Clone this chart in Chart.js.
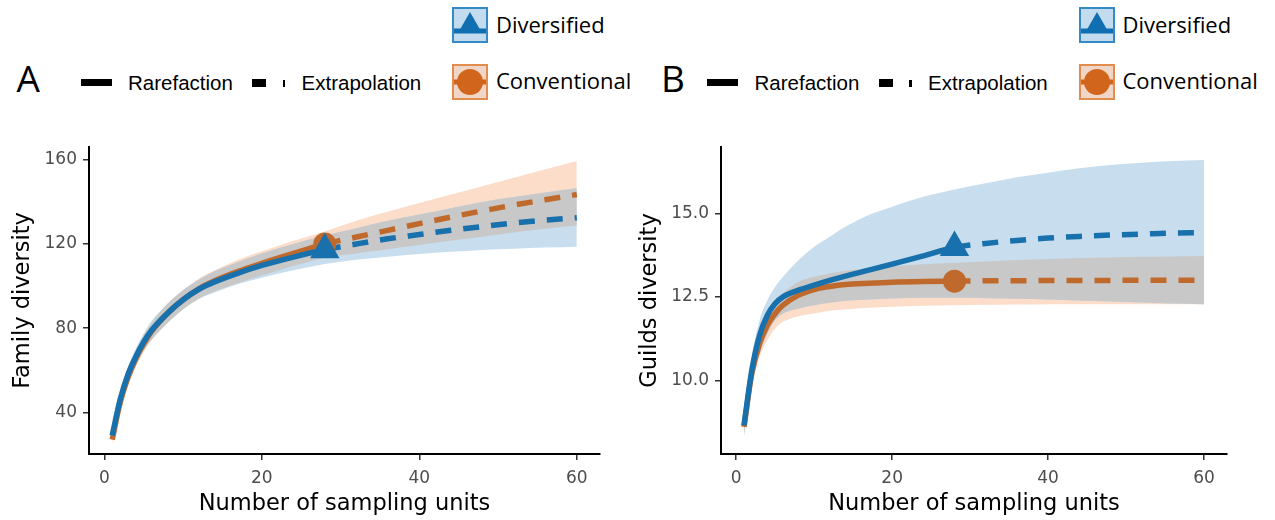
<!DOCTYPE html>
<html>
<head>
<meta charset="utf-8">
<script src="https://cdn.jsdelivr.net/npm/chart.js"></script>
<style>
  body { margin: 0; width: 1275px; height: 520px; background: #fff; position: relative; overflow: hidden; }
  .abs { position: absolute; white-space: nowrap; line-height: 1; }
  .letter { font-family: 'Open Sans', sans-serif; font-size: 37px; color: #000; }
  .key-lbl { font-family: 'Liberation Sans', Arial, sans-serif; font-size: 20.5px; color: #000; }
  .grp-lbl { font-family: 'Open Sans', sans-serif; font-size: 22px; color: #000; }
  .blk { background: #000; }
  canvas { position: absolute; }
</style>
</head>
<body>
<canvas id="chartA" width="620" height="390" style="left:0;top:130px"></canvas>
<canvas id="chartB" width="643" height="390" style="left:632px;top:130px"></canvas>

<script>
// sample sizes (x) shared by both panels; observed reference size
const sampleUnits = [1, 2, 3, 4, 5, 6, 8, 10, 12, 14, 17, 20, 24, 28, 32, 36, 40, 44, 48, 52, 56, 60];
const obsUnits = 28;
const groups = ['Diversified', 'Conventional'];
const methods = ['Rarefaction', 'Extrapolation'];

// A - family diversity
const divA   = [29, 46, 58, 66.5, 73.5, 79, 87, 93.5, 98.5, 102, 106.2, 109.8, 113.8, 117.3, 120, 122.5, 124.5, 126.5, 128.3, 130, 131.3, 132.5];
const divAHi = [31, 49, 61.5, 70.5, 77.5, 83.5, 91.5, 98, 103, 107, 111.5, 115.5, 120, 124, 127.5, 131, 134, 137, 140, 142.3, 144.5, 146.5];
const divALo = [27, 43, 54.5, 62.5, 69.5, 74.5, 82.5, 89, 94, 97, 101, 104, 107.5, 110.5, 112.5, 114, 115.2, 116.3, 117.2, 117.8, 118.3, 118.7];
const conA   = [27, 44.5, 56.5, 65.5, 72.5, 78.5, 87, 93.5, 98.7, 102.5, 107, 110.8, 115.5, 120, 123.3, 126.5, 129.7, 132.8, 135.7, 138.5, 141, 143.5];
const conAHi = [29, 47.5, 60, 69.5, 76.5, 82.5, 91.5, 98, 103.5, 107.5, 112.5, 116.5, 121.5, 126, 131, 135.5, 139.5, 143.5, 147.5, 151.5, 155.5, 159.5];
const conALo = [25, 41.5, 53, 61.5, 68.5, 74.5, 82.5, 89, 94, 97.5, 101.5, 105, 109.5, 113.5, 115.5, 117.5, 119.5, 121.5, 123.5, 125.5, 127.3, 128.8];
const yTicksA = [40, 80, 120, 160];
const yLabelsA = ['40', '80', '120', '160'];

// B - guilds diversity
const divB   = [8.65, 10.3, 11.35, 11.95, 12.3, 12.5, 12.7, 12.85, 12.99, 13.12, 13.3, 13.48, 13.73, 13.98, 14.1, 14.19, 14.26, 14.31, 14.35, 14.38, 14.41, 14.43];
const divBHi = [8.9, 10.7, 11.8, 12.4, 12.8, 13.1, 13.6, 14.0, 14.3, 14.6, 14.95, 15.2, 15.5, 15.72, 15.9, 16.08, 16.22, 16.35, 16.45, 16.52, 16.57, 16.6];
const divBLo = [8.4, 9.9, 10.8, 11.4, 11.8, 12.0, 12.15, 12.25, 12.32, 12.38, 12.42, 12.45, 12.47, 12.47, 12.46, 12.44, 12.42, 12.39, 12.36, 12.33, 12.3, 12.28];
const conB   = [8.6, 10.2, 11.1, 11.65, 12.0, 12.25, 12.55, 12.72, 12.81, 12.87, 12.91, 12.94, 12.96, 12.97, 12.98, 12.98, 12.99, 12.99, 12.99, 13.0, 13.0, 13.0];
const conBHi = [8.85, 10.5, 11.45, 12.0, 12.35, 12.6, 12.95, 13.1, 13.2, 13.28, 13.35, 13.42, 13.48, 13.52, 13.56, 13.6, 13.63, 13.66, 13.68, 13.7, 13.71, 13.72];
const conBLo = [8.3, 9.8, 10.7, 11.2, 11.55, 11.75, 11.92, 12.0, 12.08, 12.12, 12.17, 12.2, 12.23, 12.25, 12.26, 12.27, 12.28, 12.28, 12.28, 12.28, 12.28, 12.28];
const yTicksB = [10, 12.5, 15];
const yLabelsB = ['10.0', '12.5', '15.0'];

const xTicks = [0, 20, 40, 60];

const blue = '#1870AC';
const orange = '#BF6A2C';
const blueBand = '#C8DEEE';
const orangeBand = '#FBDDCA';
const greyBand = '#C8C8C8';
const tickFont = { family: "'DejaVu Sans', sans-serif", size: 17 };
const titleFont = { family: "'DejaVu Sans', sans-serif", size: 22.5 };

function makePanel(id, p) {
    const pts = ys => sampleUnits.map((x, i) => ({ x, y: ys[i] }));
    const obsIdx = sampleUnits.indexOf(obsUnits);
    const ovLo = p.divLo.map((v, i) => Math.max(v, p.conLo[i]));
    const ovHi = p.divHi.map((v, i) => Math.min(v, p.conHi[i]));
    const dashed = ctx => ctx.p0.parsed.x >= obsUnits ? [16, 12] : undefined;

    const band = (ys, fill, color, order) => ({
        data: pts(ys), fill, backgroundColor: color, borderWidth: 0, pointRadius: 0,
        cubicInterpolationMode: 'monotone', order
    });
    const curve = (ys, color, order) => ({
        data: pts(ys), fill: false, borderColor: color, borderWidth: 5.5, borderCapStyle: 'butt',
        pointRadius: 0, cubicInterpolationMode: 'monotone', segment: { borderDash: dashed }, order
    });
    const marker = (ys, style, r, color, order) => ({
        data: [{ x: obsUnits, y: ys[obsIdx] }], showLine: false, pointStyle: style, pointRadius: r,
        pointBackgroundColor: color, pointBorderWidth: 0, order
    });

    return new Chart(document.getElementById(id), {
        type: 'line',
        data: {
            datasets: [
                band(p.conLo, false, 'transparent', 9),
                band(p.conHi, '-1', orangeBand, 9),
                band(p.divLo, false, 'transparent', 8),
                band(p.divHi, '-1', blueBand, 8),
                band(ovLo, false, 'transparent', 7),
                band(ovHi, '-1', greyBand, 7),
                curve(p.con, orange, 4),
                curve(p.div, blue, 3),
                marker(p.con, 'circle', 11.5, orange, 2),
                marker(p.div, 'triangle', 17, blue, 1)
            ]
        },
        options: {
            responsive: false,
            animation: false,
            layout: { padding: { top: 12, right: p.padRight, left: 0, bottom: 0 } },
            plugins: { legend: { display: false }, tooltip: { enabled: false } },
            scales: {
                x: {
                    type: 'linear', min: -1.95, max: 62.95,
                    afterBuildTicks: s => { s.ticks = xTicks.map(v => ({ value: v })); },
                    afterFit: s => { s.height = 66; },
                    border: { display: true, color: '#000', width: 2 },
                    grid: { display: true, drawOnChartArea: false, drawTicks: true, tickLength: 6, color: '#333', lineWidth: 1.5 },
                    ticks: { color: '#4D4D4D', font: tickFont, padding: 8, maxRotation: 0, callback: v => String(v) },
                    title: { display: true, text: 'Number of sampling units', color: '#000', font: titleFont, padding: { top: 0, bottom: 2 } }
                },
                y: {
                    type: 'linear', min: p.yMin, max: p.yMax,
                    afterBuildTicks: s => { s.ticks = p.yTicks.map(v => ({ value: v })); },
                    afterFit: s => { s.width = 89; },
                    border: { display: true, color: '#000', width: 2 },
                    grid: { display: true, drawOnChartArea: false, drawTicks: true, tickLength: 6, color: '#333', lineWidth: 1.5 },
                    ticks: { color: '#4D4D4D', font: tickFont, padding: 6, callback: (v, i) => p.yLabels[i] },
                    title: { display: true, text: p.yTitle, color: '#000', font: titleFont, padding: { top: p.titlePad, bottom: 0 } }
                }
            }
        }
    });
}

makePanel('chartA', {
    div: divA, divHi: divAHi, divLo: divALo, con: conA, conHi: conAHi, conLo: conALo,
    yMin: 20.2, yMax: 166.1, yTicks: yTicksA, yLabels: yLabelsA,
    yTitle: 'Family diversity', titlePad: 9.5, padRight: 20
});
makePanel('chartB', {
    div: divB, divHi: divBHi, divLo: divBLo, con: conB, conHi: conBHi, conLo: conBLo,
    yMin: 7.79, yMax: 16.99, yTicks: yTicksB, yLabels: yLabelsB,
    yTitle: 'Guilds diversity', titlePad: 4.5, padRight: 48
});

// legends above each panel
function addEl(html) {
    document.body.insertAdjacentHTML('beforeend', html);
}

function makeLegend(letter, letterX, dx) {
    addEl(`<div class="abs letter" style="left:${letterX}px;top:59px">${letter}</div>`);
    addEl(`<div class="abs blk" style="left:${80.6 + dx}px;top:79px;width:31px;height:7px"></div>`);
    addEl(`<div class="abs key-lbl" style="left:${128 + dx}px;top:72.5px">${methods[0]}</div>`);
    addEl(`<div class="abs blk" style="left:${252 + dx}px;top:79px;width:14px;height:7.5px"></div>`);
    addEl(`<div class="abs blk" style="left:${282.5 + dx}px;top:80px;width:2.5px;height:6.5px"></div>`);
    addEl(`<div class="abs key-lbl" style="left:${301.6 + dx}px;top:72.5px">${methods[1]}</div>`);

    addEl(`<svg class="abs" style="left:${452 + dx}px;top:7px" width="36" height="36">
        <rect x="1" y="1" width="34" height="34" fill="#C3DBEE" stroke="#3589C4" stroke-width="2"/>
        <rect x="2" y="21.5" width="32" height="5" fill="#0F6FB0"/>
        <polygon points="18,5 29.3,24.7 6.7,24.7" fill="#0F6FB0"/>
    </svg>`);
    addEl(`<div class="abs grp-lbl" style="left:${496 + dx}px;top:13px">${groups[0]}</div>`);

    addEl(`<svg class="abs" style="left:${452 + dx}px;top:64px" width="36" height="36">
        <rect x="1" y="1" width="34" height="34" fill="#F0D6C6" stroke="#E38C4E" stroke-width="2"/>
        <rect x="2" y="15.5" width="32" height="5" fill="#D2651C"/>
        <circle cx="18" cy="18" r="13" fill="#D2651C"/>
    </svg>`);
    addEl(`<div class="abs grp-lbl" style="left:${496 + dx}px;top:69px">${groups[1]}</div>`);
}

makeLegend('A', 16.5, 0);
makeLegend('B', 661, 626.5);
</script>
</body>
</html>
